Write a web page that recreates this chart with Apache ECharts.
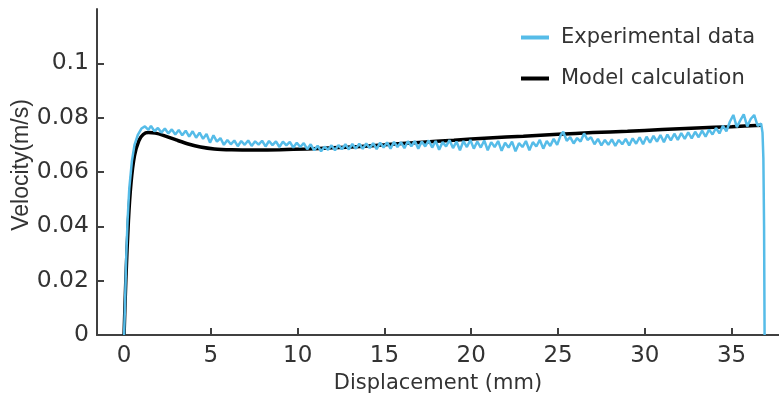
<!DOCTYPE html>
<html>
<head>
<meta charset="utf-8">
<script src="https://cdn.jsdelivr.net/npm/echarts@6/dist/echarts.min.js"></script>
<style>
  html, body { margin: 0; padding: 0; background: #fff; }
  #chart { width: 779px; height: 406px; }
</style>
</head>
<body>
<div id="chart"></div>
<script>
// ---- Data ----
const xTicks = [0, 5, 10, 15, 20, 25, 30, 35];
const yTicks = [0, 0.02, 0.04, 0.06, 0.08, 0.1];

// Model calculation: displacement (mm), velocity (m/s)
const modelX = [0, 0.1, 0.25, 0.4, 0.6, 0.85, 1.1, 1.4, 1.8, 2.3, 3, 3.7, 4.4, 5.2, 6.2, 7.5, 9, 10.5, 12, 13.6, 15, 17, 19, 21, 23, 25, 27, 29, 31, 33, 35, 36.75];
const modelV = [0, 0.020, 0.042, 0.056, 0.066, 0.0715, 0.0738, 0.0745, 0.0743, 0.0734, 0.0718, 0.0703, 0.0692, 0.0685, 0.0682, 0.0681, 0.0682, 0.0685, 0.0689, 0.0694, 0.0700, 0.0709, 0.0717, 0.0725, 0.0732, 0.0739, 0.0745, 0.0750, 0.0756, 0.0762, 0.0767, 0.0772];

// Experimental data: displacement (mm), velocity (m/s)
const expX = [0, 0.05, 0.12, 0.2, 0.3, 0.45, 0.6, 0.8, 1.0, 1.2, 1.4, 1.55, 1.75, 1.95, 2.15, 2.35, 2.55, 2.75, 2.95, 3.15, 3.35, 3.55, 3.75, 3.95, 4.15, 4.35, 4.55, 4.75, 4.95, 5.15, 5.35, 5.55, 5.75, 5.95, 6.15, 6.35, 6.55, 6.75, 6.95, 7.15, 7.35, 7.55, 7.75, 7.95, 8.15, 8.35, 8.55, 8.75, 8.95, 9.15, 9.35, 9.55, 9.75, 9.95, 10.15, 10.35, 10.55, 10.75, 10.95, 11.15, 11.35, 11.55, 11.75, 11.95, 12.15, 12.35, 12.55, 12.75, 12.95, 13.15, 13.35, 13.55, 13.75, 13.95, 14.15, 14.35, 14.55, 14.75, 14.95, 15.15, 15.35, 15.55, 15.75, 15.95, 16.15, 16.35, 16.55, 16.75, 16.95, 17.15, 17.35, 17.55, 17.75, 17.95, 18.15, 18.35, 18.55, 18.75, 18.95, 19.15, 19.35, 19.55, 19.75, 19.95, 20.15, 20.35, 20.55, 20.75, 20.95, 21.15, 21.35, 21.55, 21.75, 21.95, 22.15, 22.35, 22.55, 22.75, 22.95, 23.15, 23.35, 23.55, 23.75, 23.95, 24.15, 24.35, 24.55, 24.75, 24.95, 25.15, 25.3, 25.5, 25.7, 25.9, 26.1, 26.3, 26.5, 26.7, 26.9, 27.1, 27.3, 27.5, 27.7, 27.9, 28.1, 28.3, 28.5, 28.7, 28.9, 29.1, 29.3, 29.5, 29.7, 29.9, 30.1, 30.3, 30.5, 30.7, 30.9, 31.1, 31.3, 31.5, 31.7, 31.9, 32.1, 32.3, 32.5, 32.7, 32.9, 33.1, 33.3, 33.5, 33.7, 33.9, 34.1, 34.3, 34.5, 34.7, 34.9, 35.1, 35.3, 35.5, 35.7, 35.9, 36.1, 36.3, 36.5, 36.7, 36.78, 36.83, 36.87, 36.9];
const expV = [0, 0.010, 0.028, 0.042, 0.054, 0.064, 0.0700, 0.0738, 0.0760, 0.0768, 0.0755, 0.0770, 0.0750, 0.0762, 0.0745, 0.0760, 0.0742, 0.0757, 0.0738, 0.0755, 0.0735, 0.0752, 0.0730, 0.0750, 0.0726, 0.0745, 0.0722, 0.0740, 0.0708, 0.0735, 0.0712, 0.0725, 0.0700, 0.0718, 0.0702, 0.0716, 0.0695, 0.0714, 0.0700, 0.0716, 0.0696, 0.0713, 0.0701, 0.0715, 0.0694, 0.0714, 0.0699, 0.0713, 0.0692, 0.0712, 0.0698, 0.0711, 0.0690, 0.0708, 0.0692, 0.0706, 0.0684, 0.0702, 0.0680, 0.0697, 0.0676, 0.0693, 0.0682, 0.0698, 0.0680, 0.0699, 0.0684, 0.0702, 0.0683, 0.0703, 0.0686, 0.0704, 0.0685, 0.0705, 0.0688, 0.0706, 0.0684, 0.0708, 0.0690, 0.0709, 0.0686, 0.0711, 0.0692, 0.0710, 0.0688, 0.0713, 0.0695, 0.0714, 0.0686, 0.0712, 0.0694, 0.0716, 0.0690, 0.0714, 0.0682, 0.0710, 0.0694, 0.0717, 0.0688, 0.0712, 0.0680, 0.0714, 0.0692, 0.0718, 0.0686, 0.0712, 0.0690, 0.0716, 0.0680, 0.0710, 0.0692, 0.0714, 0.0678, 0.0708, 0.0690, 0.0712, 0.0676, 0.0706, 0.0692, 0.0714, 0.0680, 0.0710, 0.0694, 0.0718, 0.0686, 0.0714, 0.0696, 0.0722, 0.0700, 0.0735, 0.0748, 0.0715, 0.0728, 0.0705, 0.0725, 0.0712, 0.0742, 0.0718, 0.0728, 0.0702, 0.0722, 0.0698, 0.0718, 0.0700, 0.0720, 0.0696, 0.0718, 0.0702, 0.0722, 0.0698, 0.0724, 0.0704, 0.0728, 0.0702, 0.0730, 0.0708, 0.0733, 0.0712, 0.0736, 0.0710, 0.0738, 0.0716, 0.0741, 0.0718, 0.0743, 0.0722, 0.0746, 0.0724, 0.0748, 0.0728, 0.0752, 0.0730, 0.0756, 0.0738, 0.0762, 0.0742, 0.0770, 0.0750, 0.0785, 0.0810, 0.0765, 0.0790, 0.0812, 0.0768, 0.0795, 0.0810, 0.0770, 0.0778, 0.0745, 0.0650, 0.0400, 0];

const seriesNames = ['Experimental data', 'Model calculation'];
const xName = 'Displacement (mm)';
const yName = 'Velocity(m/s)';

const zip = (xs, ys) => xs.map((x, i) => [x, ys[i]]);

const chart = echarts.init(document.getElementById('chart'), null, { renderer: 'canvas' });
const axisColor = '#404040';
const textColor = '#333333';
const font = 'DejaVu Sans';

chart.setOption({
  animation: false,
  backgroundColor: '#ffffff',
  grid: { left: 97, right: 0, top: 9, bottom: 71, containLabel: false, outerBoundsMode: 'none' },
  legend: {
    orient: 'vertical',
    left: 516,
    top: 22,
    itemGap: 20,
    itemWidth: 28,
    itemHeight: 4,
    icon: 'rect',
    data: seriesNames,
    textStyle: { fontFamily: font, fontSize: 21, color: textColor, padding: [0, 0, 0, 7] }
  },
  xAxis: {
    type: 'value',
    min: -1.56,
    max: 37.73,
    name: xName,
    nameLocation: 'middle',
    nameGap: 38,
    nameMoveOverlap: false,
    nameTextStyle: { fontFamily: font, fontSize: 21, color: textColor },
    axisLine: { show: true, onZero: false, lineStyle: { color: axisColor, width: 2 } },
    axisTick: { show: true, inside: true, length: 7, customValues: xTicks, lineStyle: { color: axisColor, width: 2 } },
    axisLabel: { customValues: xTicks, margin: 10, fontFamily: font, fontSize: 23, color: textColor },
    splitLine: { show: false }
  },
  yAxis: {
    type: 'value',
    min: 0,
    max: 0.12,
    name: yName,
    nameLocation: 'middle',
    nameGap: 64,
    nameMoveOverlap: false,
    nameTextStyle: { fontFamily: 'Liberation Sans', fontSize: 23, color: textColor, padding: [0, 0, 0, 14] },
    axisLine: { show: true, onZero: false, lineStyle: { color: axisColor, width: 2 } },
    axisTick: { show: true, inside: true, length: 7, customValues: yTicks, lineStyle: { color: axisColor, width: 2 } },
    axisLabel: { customValues: yTicks, margin: 8, fontFamily: font, fontSize: 23.5, color: textColor },
    splitLine: { show: false }
  },
  series: [
    {
      name: seriesNames[1],
      type: 'line',
      data: zip(modelX, modelV),
      showSymbol: false,
      smooth: 0.3,
      lineStyle: { color: '#000000', width: 3.5 },
      itemStyle: { color: '#000000' },
      z: 2
    },
    {
      name: seriesNames[0],
      type: 'line',
      data: zip(expX, expV),
      showSymbol: false,
      lineStyle: { color: '#56bce8', width: 2.5 },
      itemStyle: { color: '#56bce8' },
      z: 3
    }
  ]
});
</script>
</body>
</html>
